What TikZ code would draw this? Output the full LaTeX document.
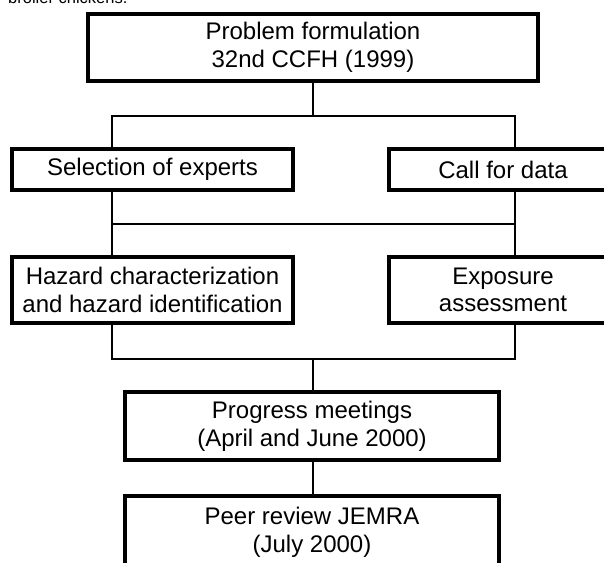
\documentclass[tikz,border=0pt]{standalone}
\usepackage{fontspec}
\setmainfont{Liberation Sans}
\begin{document}
\begin{tikzpicture}[x=1pt,y=-1pt,
  box/.style={draw,line width=3.8pt,inner sep=0pt,align=center,font=\fontsize{24}{27.6}\selectfont},
  link/.style={line width=1.4pt}]
\useasboundingbox (0,0) rectangle (604,562);
\node[anchor=base west,inner sep=0pt,font=\fontsize{16.5}{19}\selectfont] (cap) at (8,4) {broiler chickens.};
\node[box,minimum width=450pt,minimum height=67pt] (top) at (313,47.5) {Problem formulation\\32nd CCFH (1999)};
\node[box,minimum width=281pt,minimum height=41pt] (sel) at (152.5,169.5) {Selection of experts};
\node[box,minimum width=228pt,minimum height=41pt] (call) at (503,169.5) {Call for data};
\node[box,minimum width=281pt,minimum height=66pt] (haz) at (152.5,290) {Hazard characterization\\and hazard identification};
\node[box,minimum width=228pt,minimum height=66pt] (exp) at (503,290) {Exposure\\assessment};
\node[box,minimum width=374pt,minimum height=68pt] (prog) at (312,426) {Progress meetings\\(April and June 2000)};
\node[box,minimum width=374pt,minimum height=72pt] (peer) at (312,532) {Peer review JEMRA\\(July 2000)};
\coordinate (L) at (112,0);
\coordinate (R) at (515,0);
\coordinate (h1) at (0,116);
\coordinate (h2) at (0,224);
\coordinate (h3) at (0,359);
\draw[link] (top.south) -- (top.south |- h1);
\draw[link] (L |- sel.north) -- (L |- h1) -- (R |- h1) -- (R |- call.north);
\draw[link] (L |- sel.south) -- (L |- haz.north);
\draw[link] (R |- call.south) -- (R |- exp.north);
\draw[link] (L |- h2) -- (R |- h2);
\draw[link] (L |- haz.south) -- (L |- h3) -- (R |- h3) -- (R |- exp.south);
\draw[link] (top.south |- h3) -- (top.south |- prog.north);
\draw[link] (top.south |- prog.south) -- (top.south |- peer.north);
\end{tikzpicture}
\end{document}
